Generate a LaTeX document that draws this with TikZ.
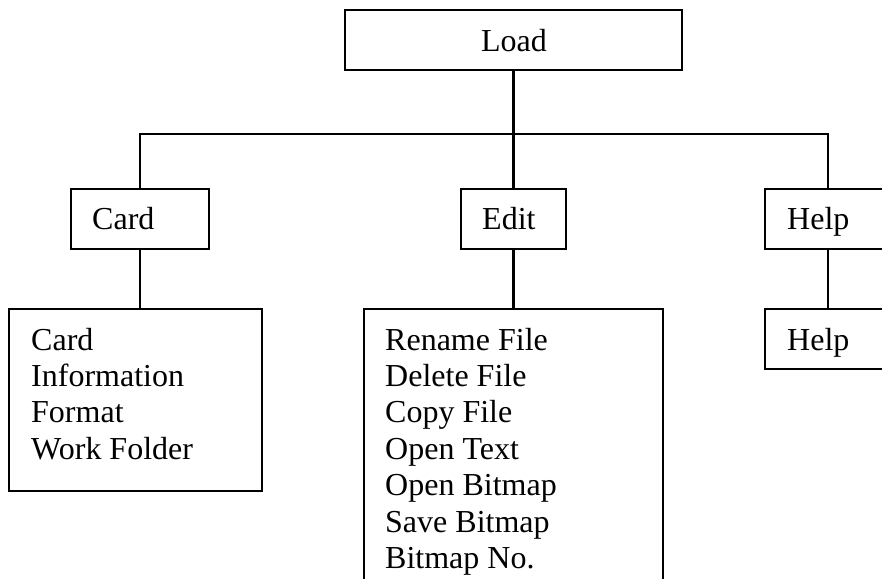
\documentclass[tikz,border=0pt]{standalone}
\usepackage{fontspec}
\setmainfont{Liberation Serif}
\begin{document}
\begin{tikzpicture}[x=1pt,y=-1pt,
  box/.style={draw, line width=2.6pt, inner sep=0pt},
  conn/.style={line width=2.4pt},
  txt/.style={font=\fontsize{32}{36}\selectfont, inner sep=0pt, anchor=base west}]
\clip (0,0) rectangle (882,578);
% boxes
\node[box, minimum width=337pt, minimum height=60pt] (load) at (513.5,40) {};
\node[box, minimum width=138pt, minimum height=60pt] (card) at (140,219) {};
\node[box, minimum width=105pt, minimum height=60pt] (edit) at (513.5,219) {};
\node[box, minimum width=126pt, minimum height=60pt] (help) at (828,219) {};
\node[box, minimum width=253pt, minimum height=182pt] (cardlist) at (135.5,400) {};
\node[box, minimum width=299pt, minimum height=291pt] (editlist) at (513.5,454.5) {};
\node[box, minimum width=126pt, minimum height=60pt] (helplist) at (828,339) {};
\coordinate (bus) at (513.5,134);
% connectors
\draw[conn] (load.south) -- (edit.north);
\draw[conn] (card.north) |- (bus) -| (help.north);
\draw[conn] (card.south) -- (card.south |- cardlist.north);
\draw[conn] (edit.south) -- (editlist.north);
\draw[conn] (help.south) -- (helplist.north);
% texts
\node[txt, anchor=base] (loadt) at (514,52) {Load};
\node[txt] (cardt) at (92,229) {Card};
\node[txt] (editt) at (482,229) {Edit};
\node[txt] (helpt) at (787,229) {Help};
\node[txt] (helplistt) at (787,350) {Help};
\foreach \t [count=\i from 0] in {Card,Information,Format,Work Folder}
  \node[txt] (cl\i) at (31,350+36.4*\i) {\t};
\foreach \t [count=\i from 0] in {Rename File,Delete File,Copy File,Open Text,Open Bitmap,Save Bitmap,Bitmap No.}
  \node[txt] (el\i) at (385,350+36.4*\i) {\t};
\end{tikzpicture}
\end{document}
